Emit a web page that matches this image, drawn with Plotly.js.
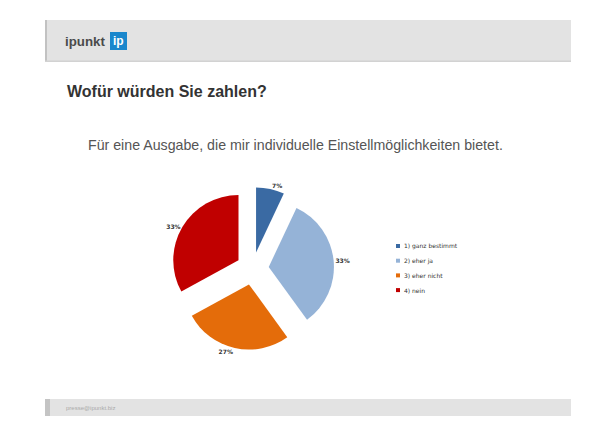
<!DOCTYPE html>
<html>
<head>
<meta charset="utf-8">
<script src="https://cdn.plot.ly/plotly-3.0.1.min.js"></script>
<style>html,body{margin:0;padding:0;background:#fff;}#chart{width:616px;height:436px;}</style>
</head>
<body>
<div id="chart"></div>
<script>
var categories = ["1) ganz bestimmt", "2) eher ja", "3) eher nicht", "4) nein"];
var shares = [7, 33, 27, 33];
var sliceColors = ["#3a6aa3", "#95b3d7", "#e46c0a", "#c00000"];
var pageTitle = "Wofür würden Sie zahlen?";
var chartTitle = "Für eine Ausgabe, die mir individuelle Einstellmöglichkeiten bietet.";
var footerText = "presse@ipunkt.biz";

var W = 616, H = 436;
function px(x) { return x / W; }
function py(y) { return 1 - y / H; }

var trace = {
  type: "pie",
  labels: categories,
  values: shares,
  sort: false,
  direction: "clockwise",
  rotation: 0,
  pull: [0.25, 0.25, 0.25, 0.25],
  marker: {colors: sliceColors, line: {color: "#ffffff", width: 0}},
  texttemplate: "<b>%{value}%</b>",
  textposition: "outside",
  textfont: {family: "DejaVu Sans", size: 6, color: "#333"},
  hoverinfo: "label+percent",
  showlegend: false,
  domain: {x: [px(171), px(334)], y: [py(350), py(187)]}
};

var shapes = [
  {type: "rect", xref: "paper", yref: "paper", x0: px(45), x1: px(571), y0: py(62), y1: py(20), fillcolor: "#e3e3e3", line: {width: 0}, layer: "below"},
  {type: "rect", xref: "paper", yref: "paper", x0: px(45), x1: px(47), y0: py(62), y1: py(20), fillcolor: "#c2c2c2", line: {width: 0}, layer: "below"},
  {type: "rect", xref: "paper", yref: "paper", x0: px(45), x1: px(571), y0: py(62), y1: py(60.5), fillcolor: "#d2d2d2", line: {width: 0}, layer: "below"},
  {type: "rect", xref: "paper", yref: "paper", x0: px(110), x1: px(127), y0: py(50), y1: py(32), fillcolor: "#1a87cc", line: {width: 0}, layer: "below"},
  {type: "rect", xref: "paper", yref: "paper", x0: px(45), x1: px(571), y0: py(416), y1: py(399), fillcolor: "#e3e3e3", line: {width: 0}, layer: "below"},
  {type: "rect", xref: "paper", yref: "paper", x0: px(45), x1: px(50), y0: py(416), y1: py(399), fillcolor: "#c4c4c4", line: {width: 0}, layer: "below"}
];

var annotations = [
  {text: "<b>ipunkt</b>", xref: "paper", yref: "paper", x: px(63), y: py(41), xanchor: "left", yanchor: "middle", showarrow: false, font: {family: "Liberation Sans", size: 13.3, color: "#4a4a4a"}},
  {text: "<b>ip</b>", xref: "paper", yref: "paper", x: px(118.5), y: py(41), xanchor: "center", yanchor: "middle", showarrow: false, font: {family: "Liberation Sans", size: 12, color: "#ffffff"}},
  {text: "<b>" + pageTitle + "</b>", xref: "paper", yref: "paper", x: px(65), y: py(91), xanchor: "left", yanchor: "middle", showarrow: false, font: {family: "Liberation Sans", size: 16, color: "#333333"}},
  {text: chartTitle, xref: "paper", yref: "paper", x: px(295), y: py(145), xanchor: "center", yanchor: "middle", showarrow: false, font: {family: "Liberation Sans", size: 14.2, color: "#555555"}},
  {text: footerText, xref: "paper", yref: "paper", x: px(64), y: py(407.5), xanchor: "left", yanchor: "middle", showarrow: false, font: {family: "Liberation Sans", size: 6, color: "#aaaaaa"}}
];

// compact legend, built from the data arrays
categories.forEach(function (c, i) {
  var yc = 246 + i * 14.7;
  shapes.push({type: "rect", xref: "paper", yref: "paper", x0: px(396), x1: px(400), y0: py(yc + 2), y1: py(yc - 2), fillcolor: sliceColors[i], line: {width: 0}});
  annotations.push({text: c, xref: "paper", yref: "paper", x: px(402), y: py(yc), xanchor: "left", yanchor: "middle", showarrow: false, font: {family: "DejaVu Sans", size: 6, color: "#333"}});
});

var layout = {
  width: W, height: H,
  margin: {l: 0, r: 0, t: 0, b: 0},
  paper_bgcolor: "#ffffff",
  showlegend: false,
  shapes: shapes,
  annotations: annotations
};

Plotly.newPlot("chart", [trace], layout, {displayModeBar: false, staticPlot: true});
</script>
</body>
</html>
